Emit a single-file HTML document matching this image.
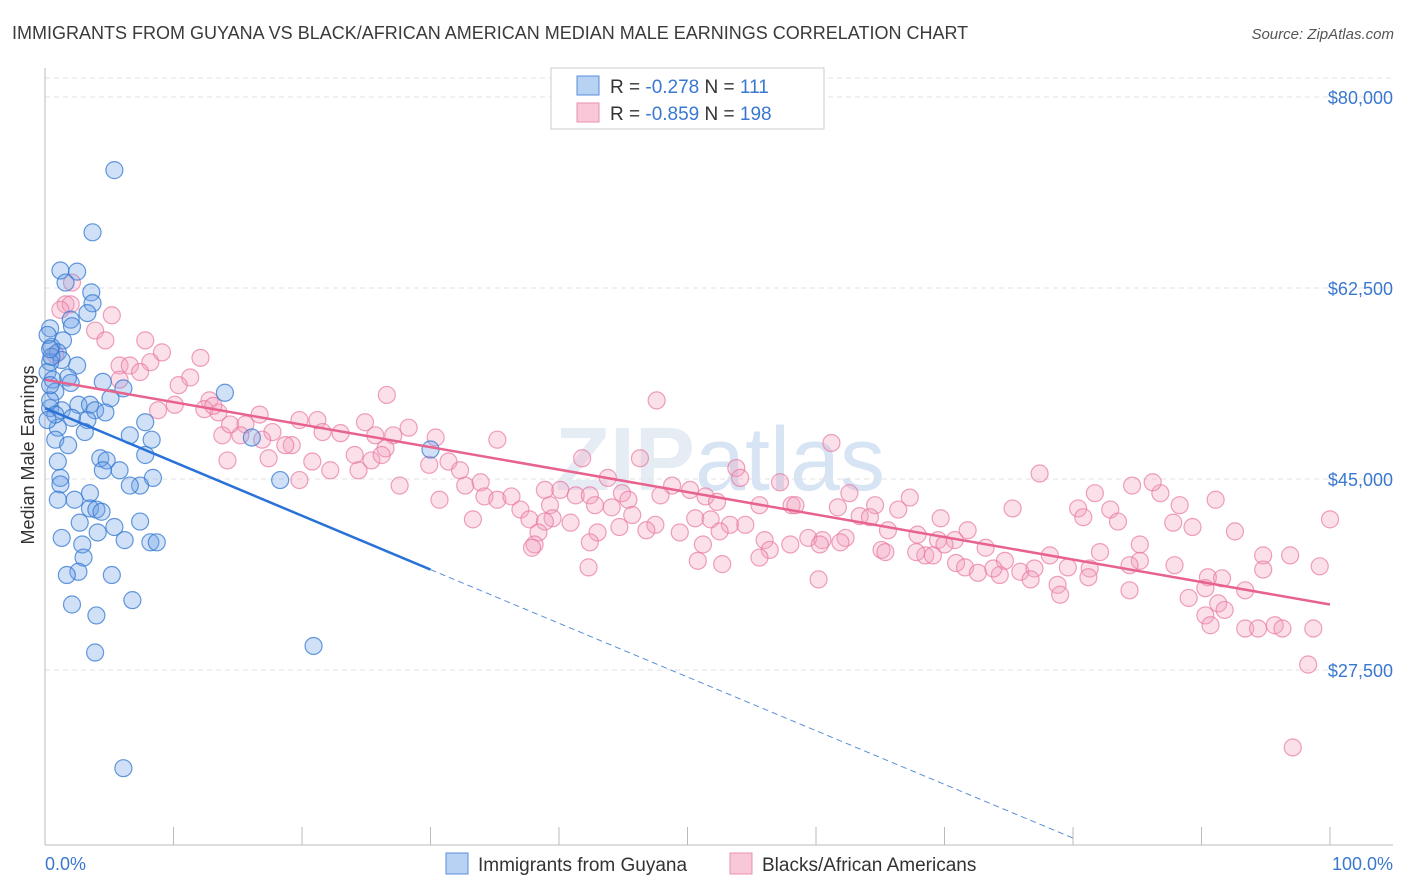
<!DOCTYPE html>
<html><head><meta charset="utf-8"><style>
body{margin:0;background:#fff;font-family:"Liberation Sans",sans-serif;}
</style></head><body>
<svg id="chart" width="1406" height="892" xmlns="http://www.w3.org/2000/svg" style="display:block">
<text x="12" y="39" font-size="18" fill="#3a3a3a">IMMIGRANTS FROM GUYANA VS BLACK/AFRICAN AMERICAN MEDIAN MALE EARNINGS CORRELATION CHART</text>
<text x="1394" y="39" font-size="15" fill="#555" text-anchor="end" font-style="italic">Source: ZipAtlas.com</text>
<text x="720" y="490" font-size="90" fill="#e6ecf4" text-anchor="middle" font-weight="bold">ZIP<tspan fill="#d6e4f4" font-weight="normal">atlas</tspan></text>
<g id="grid"></g>
<g id="axes"></g>
<g id="pts"></g>
<g id="trend"></g>
<text transform="translate(34,455) rotate(-90)" font-size="18" fill="#333" text-anchor="middle">Median Male Earnings</text>
<text x="45" y="870" font-size="18" fill="#3a78d0">0.0%</text>
<text x="1393" y="870" font-size="18" fill="#3a78d0" text-anchor="end">100.0%</text>
<g>
<rect x="551" y="68" width="273" height="61" fill="#fff" stroke="#ccc"/>
<rect x="577" y="76" width="22" height="19" fill="#b8d2f4" stroke="#5a8fd8"/>
<rect x="577" y="103" width="22" height="19" fill="#f8c8d8" stroke="#e890b0"/>
<text x="610" y="93" font-size="19" fill="#333">R = <tspan fill="#3a78d0">-0.278</tspan>   N = <tspan fill="#3a78d0"> 111</tspan></text>
<text x="610" y="120" font-size="19" fill="#333">R = <tspan fill="#3a78d0">-0.859</tspan>   N = <tspan fill="#3a78d0">198</tspan></text>
</g>
<g>
<rect x="446" y="853" width="22" height="21" fill="#b8d2f4" stroke="#5a8fd8"/>
<text x="478" y="871" font-size="19" fill="#333">Immigrants from Guyana</text>
<rect x="730" y="853" width="22" height="21" fill="#f8c8d8" stroke="#e890b0"/>
<text x="762" y="871" font-size="19" fill="#333">Blacks/African Americans</text>
</g>
</svg>
<script>
const yTicks=[80,62.5,45,27.5];
const yTickLabels=["$80,000","$62,500","$45,000","$27,500"];
const xTicks=[0,10,20,30,40,50,60,70,80,90,100];
const blueX=[5.4,3.7,1.2,2.5,1.6,3.6,3.7,3.3,2.0,2.1,0.4,1.4,0.5,1.0,2.5,1.3,0.4,0.2,0.6,1.8,0.8,2.0,4.5,6.1,5.1,2.6,3.5,0.4,1.3,3.9,4.7,14.0,2.1,3.3,1.0,6.6,7.8,3.1,8.3,0.8,1.8,16.1,30.0,7.8,4.3,4.8,5.8,4.5,1.0,1.2,18.3,8.4,7.4,6.6,1.2,3.5,2.3,1.0,3.5,4.0,4.4,2.7,5.4,7.4,4.1,1.3,6.2,8.2,8.7,2.9,3.0,2.6,1.7,5.2,2.1,6.8,4.0,3.9,20.9,6.1,0.4,0.4,0.5,0.2,0.8,0.2,0.4];
const blueY=[73.3,67.6,64.1,64.0,63.0,62.1,61.1,60.2,59.6,59.0,58.8,57.7,57.1,56.6,55.4,55.9,55.7,54.8,54.1,54.3,53.0,53.8,53.9,53.3,52.4,51.8,51.8,51.5,51.3,51.3,51.1,52.9,50.6,50.4,49.7,49.0,50.2,49.3,48.6,48.6,48.1,48.8,47.7,47.2,46.9,46.7,45.8,45.8,46.6,45.1,44.9,45.1,44.4,44.4,44.5,43.7,43.1,43.1,42.3,42.2,42.0,41.0,40.6,41.1,40.1,39.6,39.4,39.2,39.2,39.0,37.8,36.5,36.2,36.2,33.5,33.9,32.5,29.1,29.7,18.5,52.2,53.6,56.2,58.2,50.9,50.4,56.9];
const pinkX=[1.6,2.0,2.1,1.2,5.2,3.9,4.7,7.8,9.1,0.8,5.8,6.6,8.2,7.4,11.3,10.4,5.8,26.6,12.8,8.8,13.5,12.4,13.1,16.7,15.6,19.8,21.2,24.9,15.2,13.8,17.7,19.2,21.6,23.0,27.1,28.3,25.7,26.5,30.4,35.2,20.8,17.4,14.2,24.1,25.4,26.2,29.9,31.4,32.3,41.8,46.3,53.8,61.2,47.6,22.2,24.4,19.8,27.6,32.7,33.9,38.9,40.1,43.8,48.8,50.2,54.1,57.2,77.4,84.6,30.7,34.2,35.2,36.3,41.3,42.4,44.9,47.9,51.4,52.3,55.6,58.1,62.6,67.3,81.7,86.8,91.1,86.2,39.3,42.8,45.4,37.0,37.7,39.5,44.1,45.7,50.6,51.8,58.4,61.7,64.6,66.4,75.3,80.4,82.9,88.3,100,33.3,38.9,40.9,44.7,47.5,53.3,54.5,63.4,64.2,69.7,71.8,80.8,83.5,87.8,89.3,38.4,43.0,46.8,49.4,52.5,56.0,59.4,60.5,62.3,65.6,67.9,69.5,70.8,92.6,38.1,42.4,37.9,51.2,56.4,58.0,60.3,61.9,65.1,68.5,70.0,73.2,85.2,94.8,96.9,42.3,50.8,52.7,55.6,65.4,67.8,69.1,70.9,71.6,74.7,78.2,82.1,85.2,99.2,75.9,74.3,72.6,73.8,77.0,79.6,81.3,84.4,87.9,90.5,91.6,94.8,81.2,60.2,76.7,78.8,90.3,93.4,79.0,84.4,89.0,91.3,91.8,90.3,90.7,93.4,94.4,95.7,96.3,98.7,98.3,97.1,12.1,14.4,10.1,16.9,18.7];
const pinkY=[61.0,61.0,63.0,60.5,60.0,58.6,57.7,57.7,56.6,56.4,55.4,55.4,55.7,54.8,54.3,53.6,54.1,52.7,52.2,51.3,51.1,51.4,51.7,50.9,50.0,50.4,50.4,50.2,49.0,49.0,49.3,48.1,49.3,49.2,49.0,49.7,49.0,47.8,48.8,48.6,46.6,46.9,46.7,47.2,46.7,47.2,46.3,46.6,45.8,46.9,46.9,46.0,48.3,52.2,45.8,45.8,44.9,44.4,44.4,44.7,44.0,44.0,45.1,44.4,44.0,45.1,44.7,45.5,44.4,43.1,43.4,43.1,43.4,43.5,43.5,43.7,43.5,43.4,42.9,42.6,42.6,43.7,43.3,43.7,43.7,43.1,44.7,42.6,42.6,43.1,42.2,41.3,41.4,42.4,41.7,41.4,41.3,42.6,42.4,42.6,42.2,42.3,42.3,42.2,42.6,41.3,41.3,41.1,41.0,40.6,40.8,40.8,40.8,41.6,41.5,41.4,40.3,41.5,41.1,41.0,40.6,40.1,40.1,40.3,40.1,40.2,39.4,39.6,39.4,39.6,40.3,39.9,39.4,39.4,40.2,39.0,39.2,38.7,39.0,38.5,39.0,39.0,39.2,38.5,38.0,39.0,38.7,39.0,38.0,38.0,36.9,37.5,37.2,37.8,38.3,38.3,38.0,37.3,36.9,37.5,38.0,38.3,37.5,37.0,36.5,36.2,36.4,36.8,36.8,36.9,36.8,37.1,37.1,36.0,35.9,36.7,36.0,35.8,35.8,35.3,35.0,34.8,34.4,34.8,34.1,33.6,33.0,32.5,31.6,31.3,31.3,31.6,31.3,31.3,28.0,20.4,56.1,50.0,51.8,48.6,48.1];
const blueTrendX=[0,30,80];
const blueTrendY=[51.5,36.7,12.1];
const pinkTrendX=[0,100];
const pinkTrendY=[54.1,33.5];

const NS="http://www.w3.org/2000/svg";
const X=v=>45+v*12.85;
const Y=k=>97+(80-k)*10.914;
function mk(t,a,p){const e=document.createElementNS(NS,t);for(const k in a)e.setAttribute(k,a[k]);p.appendChild(e);return e;}
const grid=document.getElementById('grid'),axes=document.getElementById('axes');
yTicks.forEach((t,i)=>{
 const l=mk('line',{x1:45,x2:1393,y1:Y(t),y2:Y(t),stroke:'#e2e2e2','stroke-dasharray':'5,4'},grid);
 
 
 const tx=mk('text',{x:1393,y:Y(t)+7,'font-size':18,fill:'#3a78d0','text-anchor':'end'},axes);
 tx.textContent=yTickLabels[i];
 
 
});
const tl=mk('line',{x1:45,x2:1393,y1:78,y2:78,stroke:'#e2e2e2','stroke-dasharray':'5,4'},grid);


const ya=mk('line',{x1:45,x2:45,y1:68,y2:845,stroke:'#bbb'},axes);


const xa=mk('line',{x1:45,x2:1393,y1:845,y2:845,stroke:'#bbb'},axes);


xTicks.forEach(t=>{
 const l=mk('line',{x1:X(t),x2:X(t),y1:827,y2:845,stroke:'#bbb'},axes);
 
 
});
const pts=document.getElementById('pts');
pinkX.forEach((v,i)=>{
 const c=mk('circle',{cx:X(v),cy:Y(pinkY[i]),r:8.5,fill:'rgba(242,160,190,0.32)',stroke:'rgba(232,120,160,0.7)','stroke-width':1.2},pts);
 
 
});
blueX.forEach((v,i)=>{
 const c=mk('circle',{cx:X(v),cy:Y(blueY[i]),r:8.5,fill:'rgba(110,160,230,0.32)',stroke:'rgba(50,120,210,0.75)','stroke-width':1.2},pts);
 
 
});
const tr=document.getElementById('trend');
const b1=mk('line',{x1:X(blueTrendX[0]),y1:Y(blueTrendY[0]),x2:X(blueTrendX[1]),y2:Y(blueTrendY[1]),stroke:'#2a72d8','stroke-width':2.5},tr);


const b2=mk('line',{x1:X(blueTrendX[1]),y1:Y(blueTrendY[1]),x2:X(blueTrendX[2]),y2:Y(blueTrendY[2]),stroke:'#5a90d8','stroke-width':1,'stroke-dasharray':'6,4'},tr);


const p1=mk('line',{x1:X(pinkTrendX[0]),y1:Y(pinkTrendY[0]),x2:X(pinkTrendX[1]),y2:Y(pinkTrendY[1]),stroke:'#e8628e','stroke-width':2.5},tr);


</script>
</body></html>
